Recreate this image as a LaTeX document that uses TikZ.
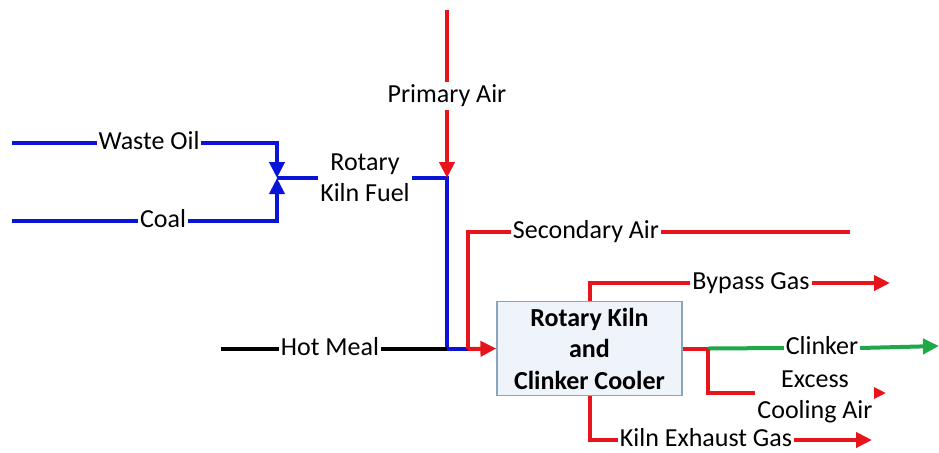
\documentclass[tikz,border=0pt]{standalone}
\usepackage{fontspec}
\setmainfont{Carlito}
\usetikzlibrary{arrows.meta}

\definecolor{flowred}{HTML}{E8141B}
\definecolor{flowblue}{HTML}{0A14D8}
\definecolor{flowgreen}{HTML}{1EA84A}
\definecolor{kilnfill}{HTML}{EEF4FA}
\definecolor{kilnedge}{HTML}{8AA6BF}

\tikzset{
  flow/.style={line width=2pt},
  lbl/.style={inner sep=1pt, outer sep=0pt, font=\fontsize{13}{15.5}\selectfont, text height=9pt, text depth=3pt},
  lbltwo/.style={inner sep=1pt, outer sep=0pt, font=\fontsize{13}{15.5}\selectfont, align=center},
  kiln/.style={draw=kilnedge, fill=kilnfill, line width=0.6pt, minimum width=92.5pt, minimum height=45.5pt,
    align=center, font=\fontsize{13}{15.75}\selectfont\bfseries}
}

\begin{document}
\begin{tikzpicture}[line join=miter,>={Triangle[length=8pt,width=7.5pt]},x=0.5pt,y=-0.5pt]
\useasboundingbox (0,0) rectangle (939,452);
% unit and labels
\node[kiln] (box) at (589.5,348.5) {Rotary Kiln\\and\\Clinker Cooler};
\node[lbl] (waste) at (149,143) {Waste Oil};
\node[lbl] (coal) at (163,221) {Coal};
\node[lbltwo] (fuel) at (365,178) {Rotary\\Kiln Fuel};
\node[lbl] (primary) at (447,96) {Primary Air};
\node[lbl] (hotmeal) at (330,349) {Hot Meal};
\node[lbl] (secair) at (586,232) {Secondary Air};
\node[lbl] (bypass) at (751,283) {Bypass Gas};
\node[lbl] (clinker) at (822,348) {Clinker};
\node[lbltwo] (excess) at (815,397) {Excess\\Cooling Air};
\node[lbl] (exhaust) at (706,440) {Kiln Exhaust Gas};
% end points and bends
\coordinate (wo) at (12,143);
\coordinate (co) at (12,221);
\coordinate (jn) at (277,178);
\coordinate (pa) at (447,178);
\coordinate (patop) at (447,10);
\coordinate (hm) at (447,349);
\coordinate (hmstart) at (221,349);
\coordinate (sa) at (468,349);
\coordinate (saend) at (850,232);
\coordinate (cj) at (708,348.5);
\coordinate (bpend) at (890,283);
\coordinate (clend) at (939,346);
\coordinate (exend) at (886,393);
\coordinate (khend) at (872,440);
% fuel
\draw[flow, flowblue] (wo) -- (waste.west);
\draw[flow, flowblue, ->] (waste.east) -| (jn);
\draw[flow, flowblue] (co) -- (coal.west);
\draw[flow, flowblue, ->] (coal.east) -| (jn);
\draw[flow, flowblue] (jn) -- (fuel.west);
\draw[flow, flowblue] (fuel.east) -- (pa) -- (hm) -- (sa);
% air and meal
\draw[flow, flowred] (patop) -- (primary.north);
\draw[flow, flowred, ->] (primary.south) -- (pa);
\draw[flow, black] (hmstart) -- (hotmeal.west);
\draw[flow, black] (hotmeal.east) -- (hm);
\draw[flow, flowred] (saend) -- (secair.east);
\draw[flow, flowred] (secair.west) -| (sa);
\draw[flow, flowred, ->] (sa) -- (box.west);
% products
\draw[flow, flowred] (box.north) |- (bypass.west);
\draw[flow, flowred, ->] (bypass.east) -- (bpend);
\draw[flow, flowred] (box.east) -- (cj);
\draw[flow, flowgreen] (cj) -- (clinker.west);
\draw[flow, flowgreen, ->] (clinker.east) -- (clend);
\draw[flow, flowred] (cj) |- ([yshift=2pt]excess.west);
\draw[flow, flowred, -{Triangle[length=6pt,width=5.5pt]}] ([yshift=2pt]excess.east) -- (exend);
\draw[flow, flowred] (box.south) |- (exhaust.west);
\draw[flow, flowred, ->] (exhaust.east) -- (khend);
\end{tikzpicture}
\end{document}
